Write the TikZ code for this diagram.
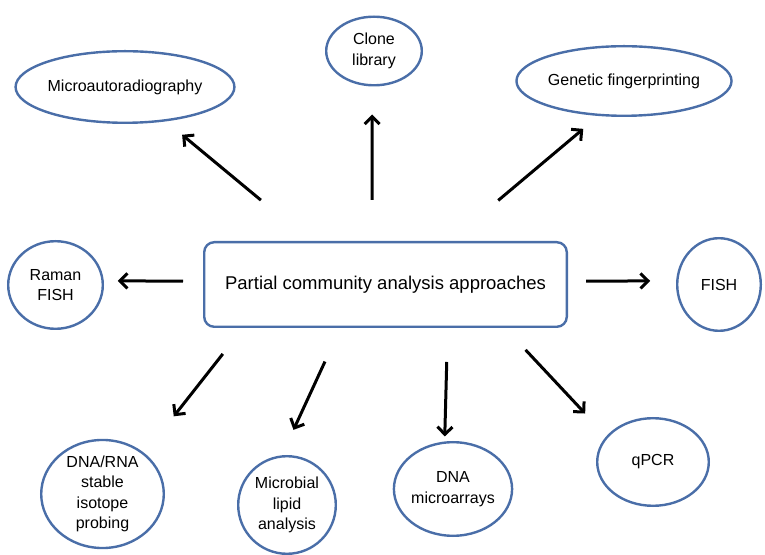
\documentclass[tikz,border=0pt]{standalone}
\usepackage{fontspec}
\setmainfont{Liberation Sans}
\usetikzlibrary{arrows.meta,shapes.geometric,positioning}
\definecolor{ringblue}{RGB}{74,110,168}
\tikzset{
  basic/.style  = {draw=ringblue, line width=2.4pt, align=center, inner sep=0pt,
                   font=\fontsize{16}{20.5}\selectfont},
  hub/.style    = {basic, rectangle, rounded corners=10pt,
                   font=\fontsize{18.5}{22}\selectfont},
  oval/.style   = {basic, ellipse},
  arr/.style    = {-{Straight Barb[length=7.5pt,width=15pt]}, line width=3pt}
}

\begin{document}
\begin{tikzpicture}[x=1pt,y=1pt]
\useasboundingbox (0,0) rectangle (765,554);

% centre box
\node[hub, minimum width=362.6pt, minimum height=84.6pt] (hub) at (385.5,269.5)
  {Partial community analysis approaches};

% methods round the centre
\node[oval, minimum width=203.6pt, minimum height=71.6pt] (mar)    at (125,467)   {Microautoradiography};
\node[oval, minimum width=95.6pt,  minimum height=68.6pt] (clone)  at (374,503)   {Clone\\library};
\node[oval, minimum width=209.6pt, minimum height=69.6pt] (genfp)  at (624,473)   {Genetic fingerprinting};
\node[oval, minimum width=94.6pt,  minimum height=87.6pt] (raman)  at (55.5,269)  {Raman\\FISH};
\node[oval, minimum width=83.6pt,  minimum height=92.6pt] (fish)   at (719,269.5) {FISH};
\node[oval, minimum width=122.6pt, minimum height=91.6pt] (dnasip) at (102.5,60)  {DNA/RNA\\stable\\isotope\\probing};
\node[oval, minimum width=97.6pt,  minimum height=97.6pt] (lipid)  at (287,49)    {Microbial\\lipid\\analysis};
\node[oval, minimum width=109.6pt, minimum height=93.6pt] (arrays) at (453,65)    {DNA\\microarrays};
\node[oval, minimum width=111.6pt, minimum height=87.6pt] (qpcr)   at (653,92)    {qPCR};

% arrows, left free at both ends
\foreach \from/\to/\at/\gapa/\gapb in {150/mar/320/64/21, 107/clone/267/41/28,
    34/genfp/234/63/20, 179/raman/5/20/14, 1/fish/175/18/26,
    197/dnasip/44/33/47, 224/lipid/96/37/28, 325/arrays/100/34/5,
    340/qpcr/151/30/31}
  \draw[arr, shorten <=\gapa pt, shorten >=\gapb pt] (hub.\from) -- (\to.\at);

\end{tikzpicture}
\end{document}
